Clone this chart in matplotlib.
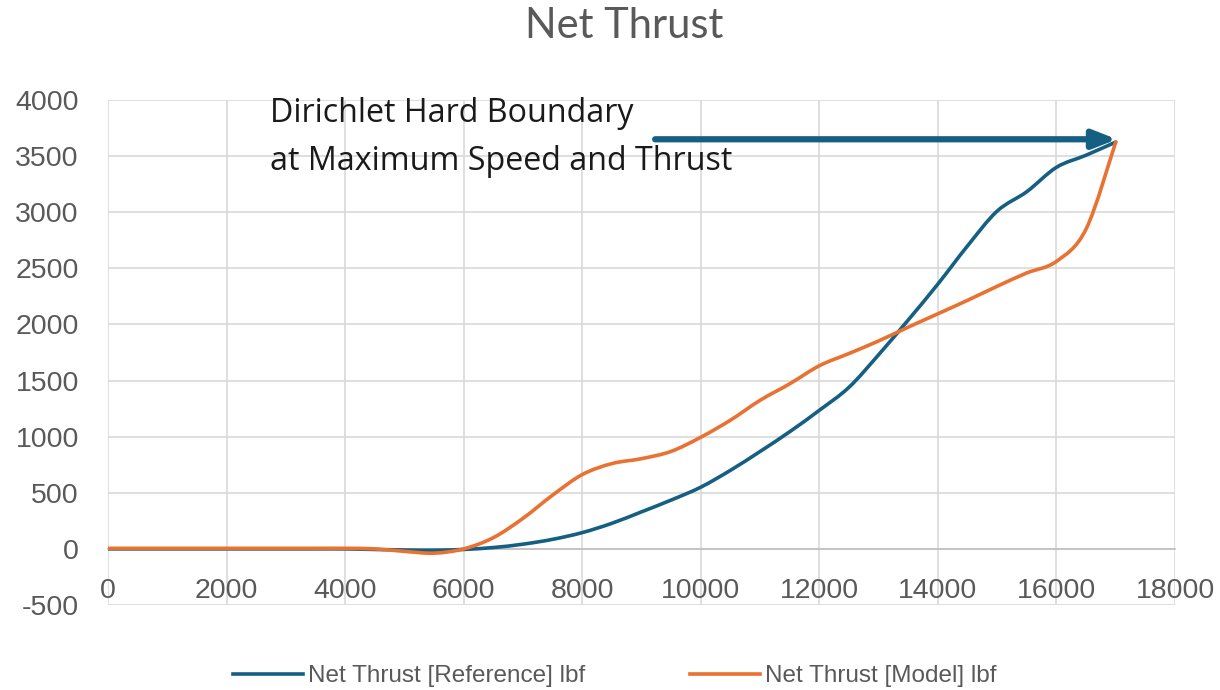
import matplotlib
matplotlib.use("Agg")
import matplotlib.pyplot as plt
from matplotlib.path import Path
from matplotlib.patches import PathPatch
from matplotlib.lines import Line2D

plt.rcParams["axes.unicode_minus"] = False

speed = [0, 500, 1000, 1500, 2000, 2500, 3000, 3500, 4000, 4500, 5000, 5500,
         6000, 6500, 7000, 7500, 8000, 8500, 9000, 9500, 10000, 10500, 11000,
         11500, 12000, 12500, 13000, 13500, 14000, 14500, 15000, 15500, 16000,
         16500, 17000]
thrust_reference = [0, 0, 0, 0, 0, 0, 0, 0, 0, -5, -10, -12,
                    -5, 12, 42, 85, 145, 228, 330, 435, 550, 700, 868,
                    1044, 1235, 1440, 1730, 2040, 2360, 2700, 3010, 3183, 3400,
                    3508, 3625]
thrust_model = [5, 5, 5, 5, 5, 5, 5, 5, 5, 0, -22, -38,
                0, 100, 272, 479, 662, 760, 804, 869, 995, 1147, 1324,
                1471, 1632, 1741, 1853, 1976, 2095, 2215, 2340, 2459, 2562,
                2850, 3625]
series_labels = ["Net Thrust [Reference] lbf", "Net Thrust [Model] lbf"]
x_ticks = [0, 2000, 4000, 6000, 8000, 10000, 12000, 14000, 16000, 18000]
y_ticks = [-500, 0, 500, 1000, 1500, 2000, 2500, 3000, 3500, 4000]
arrow_start = (9230, 3650)
arrow_end = (17020, 3650)
annotation_lines = ["Dirichlet Hard Boundary", "at Maximum Speed and Thrust"]
title = "Net Thrust"

BLUE = "#156082"
ORANGE = "#E97132"
TEXT = "#595959"
GRID = "#D9D9D9"


def smooth_path(xs, ys):
    """Excel-style smoothed line: cubic Bezier segments through every data point."""
    pts = list(zip(xs, ys))
    n = len(pts)
    verts = [pts[0]]
    codes = [Path.MOVETO]
    for i in range(n - 1):
        p0 = pts[i - 1] if i > 0 else pts[i]
        p1 = pts[i]
        p2 = pts[i + 1]
        p3 = pts[i + 2] if i + 2 < n else pts[i + 1]
        c1 = (p1[0] + (p2[0] - p0[0]) / 6.0, p1[1] + (p2[1] - p0[1]) / 6.0)
        c2 = (p2[0] - (p3[0] - p1[0]) / 6.0, p2[1] - (p3[1] - p1[1]) / 6.0)
        verts += [c1, c2, p2]
        codes += [Path.CURVE4] * 3
    return Path(verts, codes)


fig = plt.figure(figsize=(12.2, 6.9), dpi=100)
ax = fig.add_axes([108 / 1220, 1 - 605 / 690, (1175 - 108) / 1220, (605 - 100) / 690])

for ys, col, z in [(thrust_reference, BLUE, 3), (thrust_model, ORANGE, 4)]:
    ax.add_patch(PathPatch(smooth_path(speed, ys), facecolor="none", edgecolor=col,
                           lw=2.6, capstyle="round", joinstyle="round", zorder=z))

ax.set_xlim(0, 18000)
ax.set_ylim(-500, 4000)
ax.set_xticks(x_ticks)
ax.set_yticks(y_ticks)
ax.grid(True, color=GRID, lw=1.2, zorder=0)
ax.set_axisbelow(True)
for s in ["top", "right", "left"]:
    ax.spines[s].set_visible(False)
ax.spines["bottom"].set_position(("data", 0))
ax.spines["bottom"].set_color("#BFBFBF")
ax.spines["bottom"].set_linewidth(1.2)
ax.tick_params(axis="both", length=0, labelcolor=TEXT, labelsize=20.5)
ax.tick_params(axis="x", pad=21)
ax.tick_params(axis="y", pad=21)
for lab in ax.get_xticklabels() + ax.get_yticklabels():
    lab.set_family(["Liberation Sans", "DejaVu Sans"])

ax.annotate("", xy=arrow_end, xytext=arrow_start,
            arrowprops=dict(arrowstyle="-|>,head_length=1.4,head_width=0.55",
                            color=BLUE, lw=4.5, shrinkA=0, shrinkB=0), zorder=5)
for line, base_px in zip(annotation_lines, [122, 170]):
    fig.text(270 / 1220, 1 - base_px / 690, line, ha="left", va="baseline",
             fontsize=23.2, color="#1a1a1a", family=["Open Sans", "DejaVu Sans"],
             zorder=6)

fig.text(624 / 1220, 1 - 26 / 690, title, ha="center", va="center", fontsize=30,
         color=TEXT, family=["Lato", "DejaVu Sans"])

handles = [Line2D([], [], color=BLUE, lw=2.6), Line2D([], [], color=ORANGE, lw=2.6)]
leg = fig.legend(handles=handles, labels=series_labels, loc="center",
                 bbox_to_anchor=(0.504, 0.02), ncol=2, frameon=False,
                 handlelength=2.9, handletextpad=0.2, columnspacing=4.3,
                 prop={"family": ["Liberation Sans", "DejaVu Sans"], "size": 17.5})
for t in leg.get_texts():
    t.set_color(TEXT)

fig.savefig("out.png", dpi=100, facecolor="white")
